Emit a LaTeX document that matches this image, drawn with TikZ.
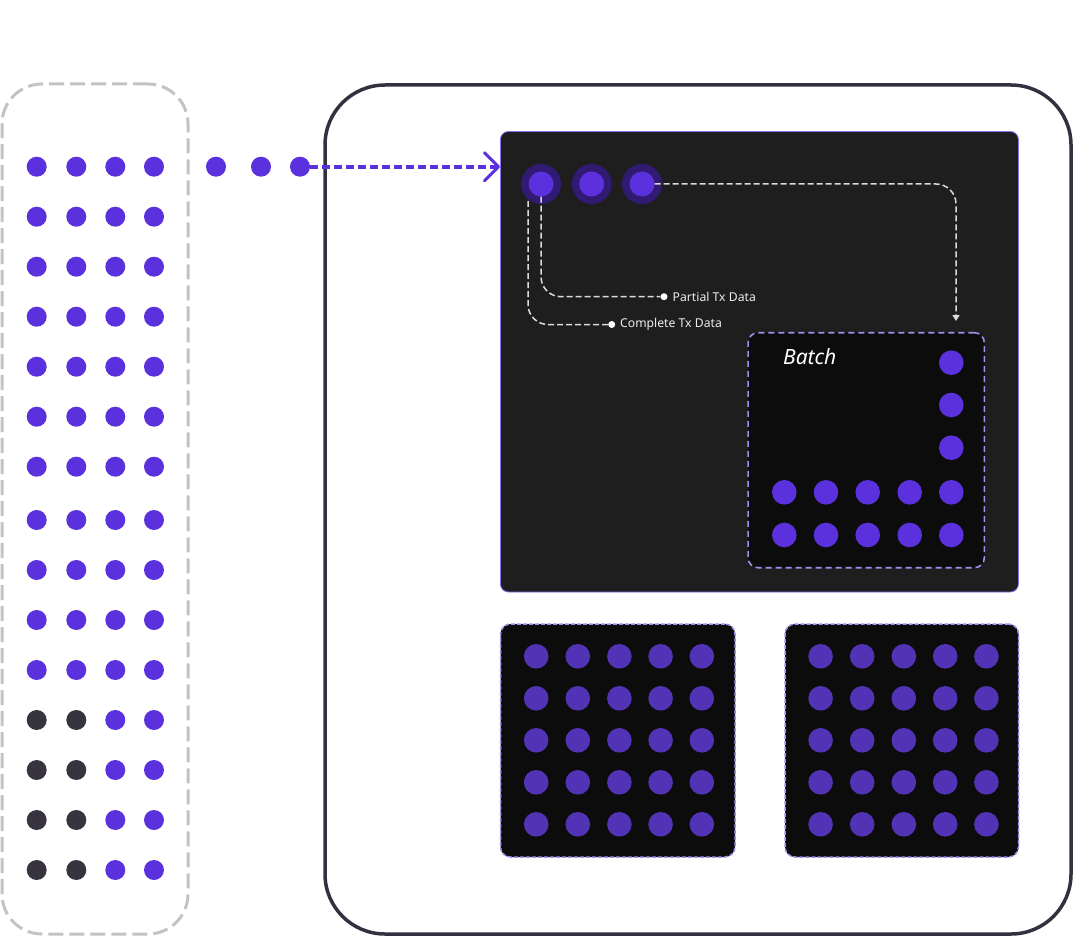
\documentclass[tikz,border=0pt]{standalone}
\usepackage{fontspec}
\setmainfont{Noto Sans}
\usetikzlibrary{arrows.meta}
\definecolor{vio}{HTML}{5B30DD}
\definecolor{viodim}{HTML}{5233B5}
\definecolor{darkdot}{HTML}{37333F}
\definecolor{grayline}{HTML}{C5C2C2}
\definecolor{frame}{HTML}{34303F}
\definecolor{panel}{HTML}{1E1E1E}
\definecolor{panelborder}{HTML}{8A70F0}
\definecolor{ringc}{HTML}{301A73}
\definecolor{wline}{HTML}{DADADA}
\definecolor{boxfill}{HTML}{0C0C0C}
\definecolor{lav}{HTML}{A38EEF}
\definecolor{txt}{HTML}{EDEDED}
\begin{document}
\begin{tikzpicture}[x=1pt,y=-1pt,
  dot/.style={circle,fill=vio,minimum size=20pt,inner sep=0pt},
  ddot/.style={circle,fill=darkdot,minimum size=20pt,inner sep=0pt},
  bdot/.style={circle,fill=vio,minimum size=24.6pt,inner sep=0pt},
  gdot/.style={circle,fill=viodim,minimum size=24.6pt,inner sep=0pt},
  ring/.style={circle,fill=ringc,minimum size=40pt,inner sep=0pt},
  core/.style={circle,fill=vio,minimum size=25pt,inner sep=0pt},
  wdot/.style={circle,fill=white,minimum size=7pt,inner sep=0pt},
  wdash/.style={draw=wline,line width=1.5pt,dash pattern=on 6pt off 3pt,rounded corners=20pt},
  lbl/.style={text=txt,font=\fontsize{12.2}{14}\selectfont,inner sep=0pt,anchor=west},
  subbox/.style={draw=lav,fill=boxfill,line width=1.5pt,dash pattern=on 4pt off 2pt,rounded corners=10pt,inner sep=0pt}
]
\useasboundingbox (0,0) rectangle (1073,936);

% left dashed container
\node[draw=grayline,line width=3pt,dash pattern=on 15pt off 6pt,rounded corners=40pt,
  minimum width=186pt,minimum height=850pt,inner sep=0pt] (queue) at (95,509) {};

% big frame
\node[draw=frame,line width=3.5pt,rounded corners=60pt,
  minimum width=746pt,minimum height=849pt,inner sep=0pt] (node) at (698,509.5) {};

% dark panel
\node[draw=panelborder,fill=panel,line width=0.8pt,rounded corners=8pt,
  minimum width=518pt,minimum height=460.5pt,inner sep=0pt] (panel) at (759.4,361.75) {};

% left dots
\foreach \y [count=\r] in {166.7,216.7,266.7,316.7,366.7,416.7,466.7,520,570,620,670}{
  \foreach \x [count=\c] in {36.7,76.3,115.3,154}{
    \node[dot] (l-\r-\c) at (\x,\y) {};
  }
}
\foreach \y [count=\r from 12] in {720,770,820,870}{
  \node[ddot] (l-\r-1) at (36.7,\y) {};
  \node[ddot] (l-\r-2) at (76.3,\y) {};
  \node[dot] (l-\r-3) at (115.3,\y) {};
  \node[dot] (l-\r-4) at (154,\y) {};
}

% extra dots
\node[dot] (e1) at (216,166.7) {};
\node[dot] (e2) at (261,166.7) {};
\node[dot] (e3) at (300,166.7) {};

% arrow into panel
\coordinate (tip) at (panel.west |- e3);
\draw[draw=vio,line width=4pt,dash pattern=on 8pt off 4pt,
  -{Straight Barb[length=14pt,width=28pt,line width=3pt,round]}] (e3) -- (tip);

% three circles
\node[ring] (r1) at (541,184) {};
\node[ring] (r2) at (591.7,184) {};
\node[ring] (r3) at (642,184) {};
\node[core] (c1) at (541,184) {};
\node[core] (c2) at (591.7,184) {};
\node[core] (c3) at (642,184) {};

% batch box
\node[draw=lav,fill=boxfill,line width=1.6pt,dash pattern=on 6pt off 4pt,rounded corners=10pt,
  minimum width=236.3pt,minimum height=235pt,inner sep=0pt] (batch) at (866.2,450.2) {};
\node[text=white,font=\fontsize{21}{24}\selectfont\itshape,anchor=base west,inner sep=0pt]
  (batchlbl) at (783,364.5) {Batch};

% labels with dots
\node[wdot] (pdot) at (664,296.7) {};
\node[lbl] (plbl) at (672.5,296.7) {Partial Tx Data};
\node[wdot] (cdot) at (611.7,324.5) {};
\node[lbl] (clbl) at (620,324.5) {Complete Tx Data};

% dashed routes
\draw[wdash] (c1.south) |- (pdot);
\coordinate (cstart) at (528,201);
\draw[wdash] (cstart) |- (cdot);
\coordinate (atip) at (956,321);
\draw[wdash,-{Triangle[length=6pt,width=7pt]}] (c3.east) -| (atip);

% batch dots
\foreach \y [count=\r] in {362.7,405,447.7}{
  \node[bdot] (bv-\r) at (951.3,\y) {};
}
\foreach \y [count=\r] in {492.3,535}{
  \foreach \x [count=\c] in {784.3,826,867.7,909.7,951.3}{
    \node[bdot] (b-\r-\c) at (\x,\y) {};
  }
}

% bottom boxes
\node[subbox,minimum width=234.5pt,minimum height=233pt] (box1) at (617.75,740.5) {};
\node[subbox,minimum width=233.5pt,minimum height=233pt] (box2) at (901.75,740.5) {};
\foreach \y [count=\r] in {656.3,698.3,740.3,782.3,824.3}{
  \foreach \x [count=\c] in {536.2,577.8,619.4,660.6,701.8}{
    \node[gdot] (g1-\r-\c) at (\x,\y) {};
  }
  \foreach \x [count=\c] in {820.6,862.2,903.8,945.2,986.4}{
    \node[gdot] (g2-\r-\c) at (\x,\y) {};
  }
}
\end{tikzpicture}
\end{document}
